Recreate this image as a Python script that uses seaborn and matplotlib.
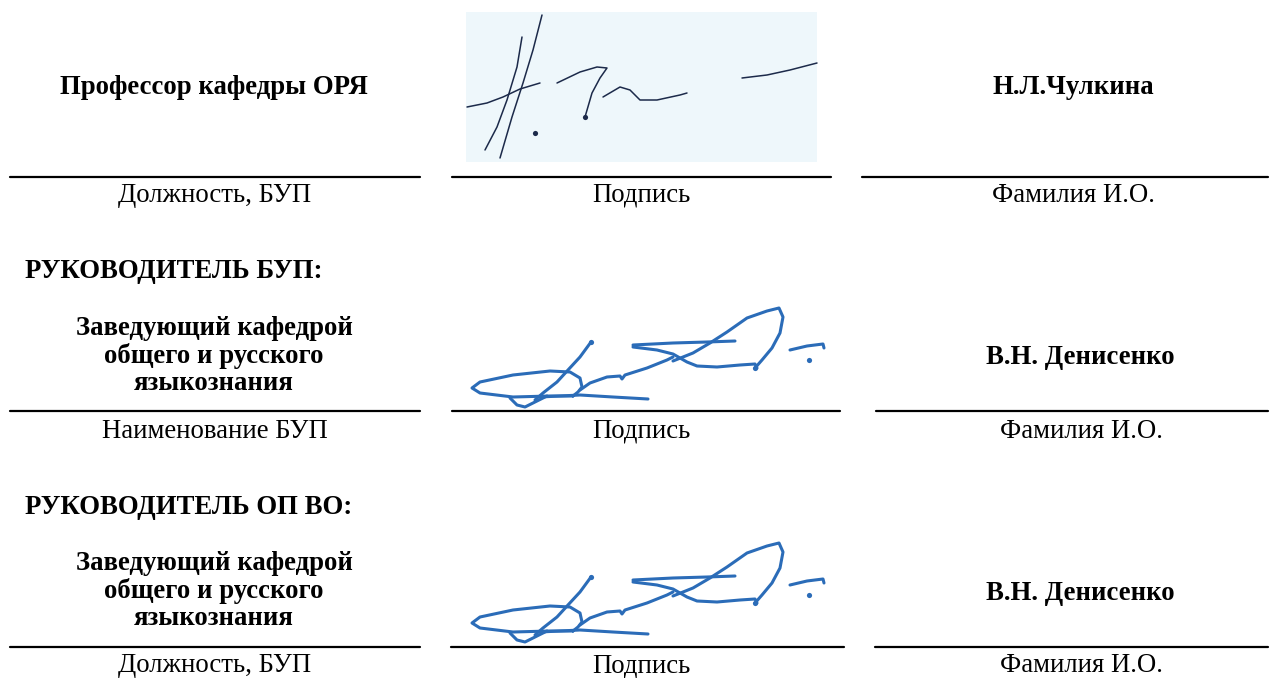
import matplotlib
matplotlib.use("Agg")
import matplotlib.pyplot as plt
import seaborn as sns
import pandas as pd

W, H = 1277, 678

# text content
row_titles = ["РУКОВОДИТЕЛЬ БУП:", "РУКОВОДИТЕЛЬ ОП ВО:"]
positions = [
    "Профессор кафедры ОРЯ",
    "Заведующий кафедрой\nобщего и русского\nязыкознания",
    "Заведующий кафедрой\nобщего и русского\nязыкознания",
]
names = ["Н.Л.Чулкина", "В.Н. Денисенко", "В.Н. Денисенко"]
left_labels = ["Должность, БУП", "Наименование БУП", "Должность, БУП"]
mid_labels = ["Подпись", "Подпись", "Подпись"]
right_labels = ["Фамилия И.О.", "Фамилия И.О.", "Фамилия И.О."]

# signature 1 (Н.Л.Чулкина), pixel points
sig1_strokes = [
    [(522, 37), (517, 67), (507, 100), (497, 127), (485, 150)],
    [(542, 15), (533, 50), (523, 83), (512, 117), (500, 158)],
    [(467, 107), (487, 103), (503, 97), (520, 89), (540, 83)],
    [(557, 83), (580, 72), (597, 67), (607, 68), (600, 78), (592, 93), (585, 117)],
    [(603, 97), (620, 87), (630, 90), (640, 100), (657, 100), (680, 95), (687, 93)],
    [(742, 78), (767, 75), (790, 70), (817, 63)],
]
sig1_dots = [(535, 133), (585, 117)]

# signature 2 (В.Н. Денисенко), pixel points for the middle row
sig2_strokes = [
    [(591, 342), (580, 357), (568, 370), (557, 382), (543, 393), (535, 400)],
    [(573, 396), (550, 396), (513, 397), (480, 393), (472, 388), (480, 382),
     (513, 375), (550, 371), (570, 372), (580, 378), (582, 387), (578, 392), (573, 396)],
    [(540, 397), (580, 395), (613, 397), (648, 399)],
    [(510, 398), (517, 405), (525, 407), (537, 401), (547, 396)],
    [(580, 390), (590, 383), (607, 377), (620, 376), (622, 379), (625, 375),
     (647, 368), (667, 360), (673, 357)],
    [(633, 345), (673, 343), (707, 342), (735, 341)],
    [(633, 347), (657, 350), (673, 354), (687, 362), (697, 366), (717, 367),
     (740, 365), (755, 364), (757, 368)],
    [(673, 361), (693, 353), (710, 343), (727, 332), (747, 318), (767, 311),
     (779, 308), (783, 317), (780, 333), (772, 348), (762, 360), (755, 368)],
    [(790, 350), (807, 346), (823, 344), (824, 348)],
]
sig2_dots = [(809, 360), (591, 342), (755, 368)]
sig3_shift = 235

sns.set_theme(style="white")
plt.rcParams["font.family"] = ["Liberation Serif", "DejaVu Serif"]
plt.rcParams["text.color"] = "black"

fig = plt.figure(figsize=(W / 100, H / 100), dpi=100)
ax = fig.add_axes([0, 0, 1, 1])
ax.set_xlim(0, W)
ax.set_ylim(H, 0)
ax.axis("off")

ink_blue = "#2b6cb8"
ink_dark = "#1c2a4a"

# background of the first signature scan
ax.add_patch(plt.Rectangle((466, 12), 351, 150, color="#eef7fb", lw=0, zorder=0))


def draw_sig(strokes, dots, color, lw, dy=0):
    for s in strokes:
        df = pd.DataFrame(s, columns=["x", "y"])
        df["y"] = df["y"] + dy
        sns.lineplot(data=df, x="x", y="y", sort=False, estimator=None,
                     color=color, lw=lw, ax=ax, solid_capstyle="round")
    dd = pd.DataFrame(dots, columns=["x", "y"])
    dd["y"] = dd["y"] + dy
    sns.scatterplot(data=dd, x="x", y="y", color=color, s=14, ax=ax, linewidth=0)


draw_sig(sig1_strokes, sig1_dots, ink_dark, 1.1)
draw_sig(sig2_strokes, sig2_dots, ink_blue, 2.2)
draw_sig(sig2_strokes, sig2_dots, ink_blue, 2.2, dy=sig3_shift)
ax.set_xlim(0, W)
ax.set_ylim(H, 0)
ax.set_xlabel("")
ax.set_ylabel("")

# signature lines
line_y = [177, 411, 647]
line_segs = [
    [(10, 420), (452, 831), (862, 1268)],
    [(10, 420), (452, 840), (876, 1268)],
    [(10, 420), (451, 844), (875, 1268)],
]
for y, segs in zip(line_y, line_segs):
    for x0, x1 in segs:
        ax.plot([x0, x1], [y, y], color="black", lw=1.6)

fs = 19.3
# position / name rows
pos_y = [87, 356, 591]
name_x = [1073, 1080, 1080]
name_y = [87, 357, 593]
for i in range(3):
    ax.text(214, pos_y[i], positions[i], ha="center", va="center", fontsize=fs,
            fontweight="bold", linespacing=1.1, color="black")
    ax.text(name_x[i], name_y[i], names[i], ha="center", va="center", fontsize=fs,
            fontweight="bold", color="black")

label_y = [195, 431, 666]
label_x = [(215, 641, 1073), (215, 641, 1081), (215, 641, 1081)]
for i in range(3):
    lx, mx, rx = label_x[i]
    for x, t in [(lx, left_labels[i]), (mx, mid_labels[i]), (rx, right_labels[i])]:
        ax.text(x, label_y[i], t, ha="center", va="center", fontsize=fs, color="black")

for t, y in zip(row_titles, [272, 507]):
    ax.text(25, y, t, ha="left", va="center", fontsize=fs, fontweight="bold",
            color="black")

fig.savefig("out.png", dpi=100, facecolor="white")
